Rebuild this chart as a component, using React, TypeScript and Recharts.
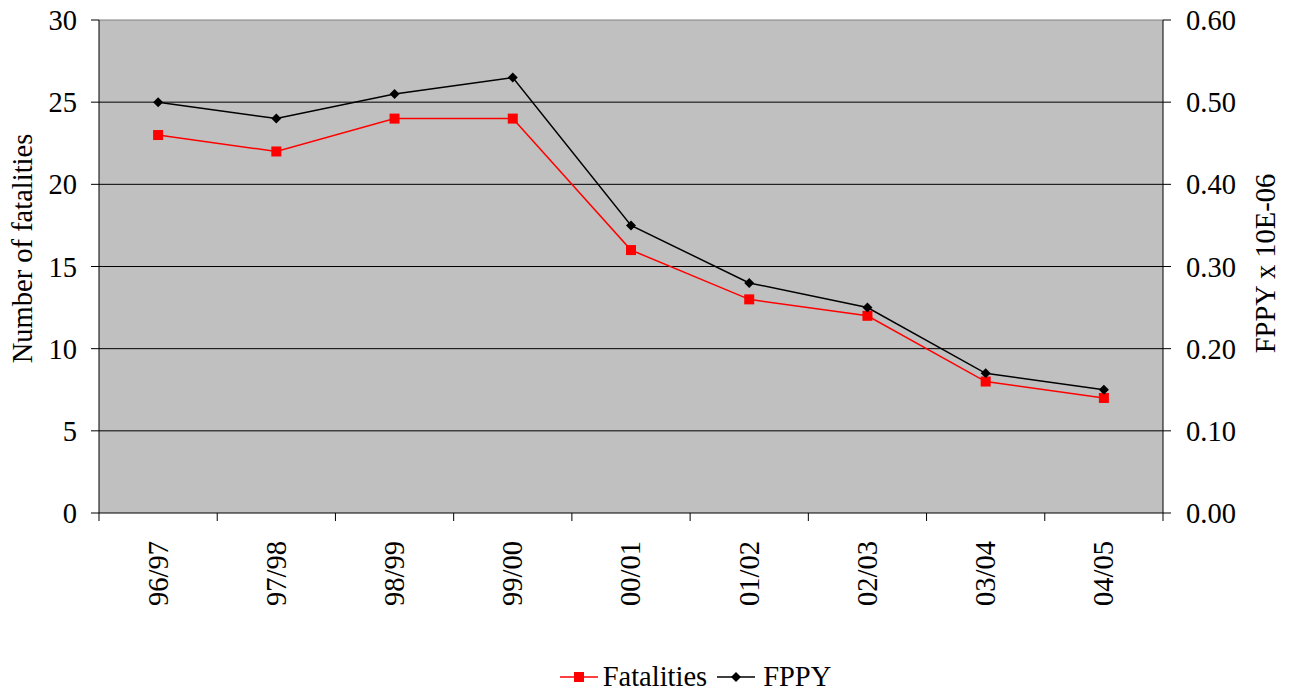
import React from 'react';
import { LineChart, Line, XAxis, YAxis, CartesianGrid, Legend, ReferenceLine } from 'recharts';

const years = ['96/97', '97/98', '98/99', '99/00', '00/01', '01/02', '02/03', '03/04', '04/05'];
const fatalities = [23, 22, 24, 24, 16, 13, 12, 8, 7];
const fppy = [0.5, 0.48, 0.51, 0.53, 0.35, 0.28, 0.25, 0.17, 0.15];
const leftTicks = [0, 5, 10, 15, 20, 25, 30];
const rightTicks = [0, 0.1, 0.2, 0.3, 0.4, 0.5, 0.6];

const FONT = '"Liberation Serif", "Times New Roman", serif';
const FS = 28.5;

const data = years.map((year, i) => ({ year, fatalities: fatalities[i], fppy: fppy[i] }));

const SquareDot = (props: any) => {
  const { cx, cy, index } = props;
  return <rect key={`s${index}`} x={cx - 5} y={cy - 5} width={10} height={10} fill="#ff0000" />;
};

const DiamondDot = (props: any) => {
  const { cx, cy, index } = props;
  return (
    <path
      key={`d${index}`}
      d={`M${cx},${cy - 5} L${cx + 5},${cy} L${cx},${cy + 5} L${cx - 5},${cy} Z`}
      fill="#000"
    />
  );
};

// category labels sit in the middle, tick marks on the category boundaries
const XTick = (props: any) => {
  const { x, y, payload, index, visibleTicksCount } = props;
  const off = payload.offset || 0;
  const last = index === visibleTicksCount - 1;
  return (
    <g>
      <line x1={x - off} y1={y} x2={x - off} y2={y + 8} stroke="#000" />
      {last && <line x1={x + off} y1={y} x2={x + off} y2={y + 8} stroke="#000" />}
      <text
        x={x}
        y={y + 28}
        textAnchor="end"
        dy="0.33em"
        transform={`rotate(-90, ${x}, ${y + 28})`}
        style={{ fontSize: FS, fontFamily: FONT }}
        fill="#000"
      >
        {payload.value}
      </text>
    </g>
  );
};

const renderLegend = () => (
  <div
    style={{
      display: 'flex',
      justifyContent: 'center',
      alignItems: 'center',
      fontFamily: FONT,
      fontSize: FS,
      color: '#000',
      paddingTop: 8,
      paddingLeft: 100,
    }}
  >
    <svg width={38} height={12} style={{ marginRight: 5 }}>
      <line x1={0} y1={6} x2={38} y2={6} stroke="#ff0000" strokeWidth={1.5} />
      <rect x={14} y={1} width={10} height={10} fill="#ff0000" />
    </svg>
    <span style={{ marginRight: 10 }}>Fatalities</span>
    <svg width={38} height={12} style={{ marginRight: 8 }}>
      <line x1={0} y1={6} x2={38} y2={6} stroke="#000" strokeWidth={1.5} />
      <path d="M19,1 L24,6 L19,11 L14,6 Z" fill="#000" />
    </svg>
    <span>FPPY</span>
  </div>
);

const YLabel = (text: string, dx: number, dy: number) => (props: any) => {
  const { viewBox } = props;
  const cx = viewBox.x + dx;
  const cy = viewBox.y + viewBox.height / 2 + dy;
  return (
    <text
      x={cx}
      y={cy}
      textAnchor="middle"
      dy="0.35em"
      transform={`rotate(-90, ${cx}, ${cy})`}
      style={{ fontSize: FS, fontFamily: FONT }}
      fill="#000"
    >
      {text}
    </text>
  );
};

export default function App() {
  const tickStyle = { fontSize: FS, fontFamily: FONT, fill: '#000' };
  return (
    <div style={{ position: 'absolute', left: 0, top: 0, width: 1291, height: 698, background: '#fff', fontFamily: FONT }}>
      <LineChart width={1291} height={698} data={data} margin={{ top: 20, right: 0, bottom: 0, left: 0 }}>
        <CartesianGrid
          fill="#c0c0c0"
          stroke="#000"
          vertical={false}
          horizontalValues={[5, 10, 15, 20, 25]}
          yAxisId="left"
        />
        <XAxis
          dataKey="year"
          scale="band"
          interval={0}
          height={140}
          tickLine={false}
          tickSize={0}
          tickMargin={0}
          axisLine={{ stroke: '#000' }}
          tick={<XTick />}
        />
        <YAxis
          yAxisId="left"
          domain={[0, 30]}
          ticks={leftTicks}
          width={99}
          tickSize={8}
          tickMargin={14}
          tick={tickStyle}
          axisLine={{ stroke: '#000' }}
          tickLine={{ stroke: '#000' }}
          label={{ content: YLabel('Number of fatalities', 22, -18) }}
        />
        <YAxis
          yAxisId="right"
          orientation="right"
          domain={[0, 0.6]}
          ticks={rightTicks}
          width={128}
          tickSize={8}
          tickMargin={15}
          tick={tickStyle}
          tickFormatter={(v: number) => v.toFixed(2)}
          axisLine={{ stroke: '#000' }}
          tickLine={{ stroke: '#000' }}
          label={{ content: YLabel('FPPY x 10E-06', 102, -3) }}
        />
        <ReferenceLine yAxisId="left" y={30} stroke="#808080" />
        <Legend verticalAlign="bottom" height={45} content={renderLegend} />
        <Line
          yAxisId="left"
          dataKey="fatalities"
          stroke="#ff0000"
          strokeWidth={1.5}
          dot={SquareDot}
          activeDot={false}
          isAnimationActive={false}
        />
        <Line
          yAxisId="right"
          dataKey="fppy"
          stroke="#000"
          strokeWidth={1.5}
          dot={DiamondDot}
          activeDot={false}
          isAnimationActive={false}
        />
      </LineChart>
    </div>
  );
}
